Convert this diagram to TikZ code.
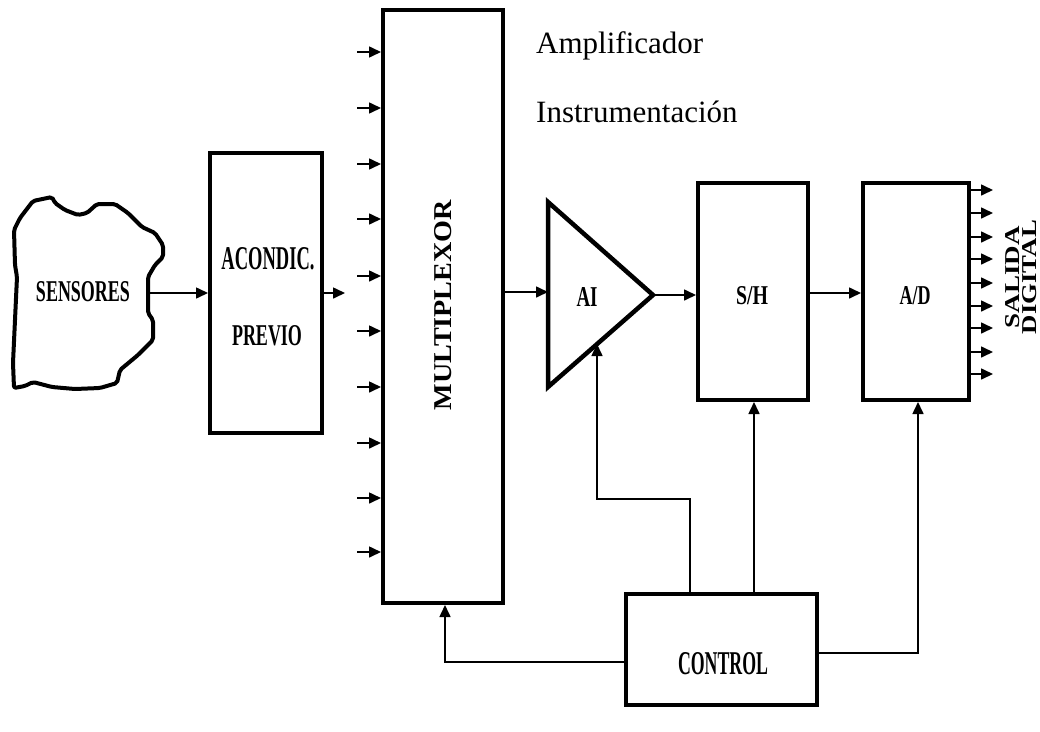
\documentclass[tikz,border=0pt]{standalone}
\usepackage{fontspec}
\setmainfont{Liberation Serif}
\usepackage{graphicx}
\usetikzlibrary{arrows.meta,calc}
\newcommand{\fitbox}[3]{\resizebox{#1pt}{#2pt}{#3}}
\begin{document}
\begin{tikzpicture}[x=1pt,y=-1pt,
  blk/.style={draw, line width=4pt, inner sep=0pt, rectangle},
  conn/.style={line width=1.6pt, -{Triangle[length=12pt,width=11pt]}},
  lbl/.style={inner sep=0pt, font=\bfseries},
  amp/.style={inner sep=0pt, font=\fontsize{31}{36}\selectfont}]
\useasboundingbox (0,0) rectangle (1040,731);

% Sensors cloud
\draw[line width=4pt, line join=round, rounded corners=2pt]
  (14,230) -- (20,218) -- (33,201) -- (52,197) -- (55,203) -- (65,210) -- (78,215)
  -- (87,213) -- (97,204) -- (115,204) -- (128,213) -- (142,227) -- (155,233)
  -- (163,245) -- (163,257) -- (155,265) -- (148,277) -- (148,313) -- (153,320)
  -- (153,340) -- (138,355) -- (120,370) -- (117,383) -- (100,388) -- (75,389)
  -- (52,387) -- (33,382) -- (25,386) -- (14,388) -- (13,363) -- (15,320)
  -- (17,277) -- (15,265) -- cycle;
\node[lbl] (sens) at (83,292) {\fitbox{94}{20}{SENSORES}};
\coordinate (sensout) at (148,293);

% Blocks
\node[blk, minimum width=112pt, minimum height=280pt] (acond) at (266,293) {};
\node[lbl] (acond1) at (268,259) {\fitbox{93}{22}{ACONDIC.}};
\node[lbl] (acond2) at (267,336) {\fitbox{70}{20}{PREVIO}};

\node[blk, minimum width=120pt, minimum height=593pt] (mux) at (443,306.5) {};
\node[lbl, rotate=90] (muxl) at (443,305) {\fitbox{210}{17}{MULTIPLEXOR}};

\coordinate (aiA) at (548,202);
\coordinate (aiB) at (548,387);
\coordinate (aiC) at (653,295);
\draw[line width=4.5pt, line join=miter] (aiA) -- (aiC) -- (aiB) -- cycle;
\node[lbl] (ail) at (587,297) {\fitbox{21}{19}{AI}};

\node[blk, minimum width=110pt, minimum height=217pt] (sh) at (753,291.5) {};
\node[lbl] (shl) at (752,296) {\fitbox{32}{18}{S/H}};

\node[blk, minimum width=106pt, minimum height=217pt] (ad) at (916,291.5) {};
\node[lbl] (adl) at (915,296) {\fitbox{31}{18}{A/D}};

\node[blk, minimum width=191pt, minimum height=111pt] (ctrl) at (721.5,649.5) {};
\node[lbl] (ctrll) at (723,664) {\fitbox{90}{22}{CONTROL}};

\node[lbl, rotate=90] (sal) at (1013,277) {\fitbox{102}{14}{SALIDA}};
\node[lbl, rotate=90] (dig) at (1030,277) {\fitbox{114}{14}{DIGITAL}};

\node[amp, anchor=base west] (amp1) at (536,53) {Amplificador};
\node[amp, anchor=base west] (amp2) at (536,122) {Instrumentación};

% Connectors
\draw[conn] (sensout) -- (sensout -| acond.west);
\coordinate (acout) at (345,293);
\draw[conn] (acond.east |- acout) -- (acout);

\foreach \y [count=\i] in {52,108,164,219,276,331,387,443,498,552}{
  \coordinate (in\i) at (357,\y);
  \draw[conn] (in\i) -- (in\i -| mux.west);
}

\coordinate (aiin) at (548,292);
\draw[conn] (aiin -| mux.east) -- (aiin);
\draw[conn] (aiC) -- (aiC -| sh.west);
\draw[conn] (sh.east |- 0,293) -- (ad.west |- 0,293);

\foreach \y [count=\i] in {190,213,237,259,283,306,328,352,374}{
  \coordinate (out\i) at (993,\y);
  \draw[conn] (out\i -| ad.east) -- (out\i);
}

% Control lines
\coordinate (cai1) at (690,499);
\coordinate (cai2) at (597,344);
\draw[conn] (cai1 |- ctrl.north) -- (cai1) -- (cai2 |- cai1) -- (cai2);
\coordinate (csh) at (754,0);
\draw[conn] (csh |- ctrl.north) -- (csh |- sh.south);
\coordinate (cad) at (918,653);
\draw[conn] (ctrl.east |- cad) -- (cad) -- (cad |- ad.south);
\coordinate (cmx) at (445,662);
\draw[conn] (ctrl.west |- cmx) -- (cmx) -- (cmx |- mux.south);
\end{tikzpicture}
\end{document}
